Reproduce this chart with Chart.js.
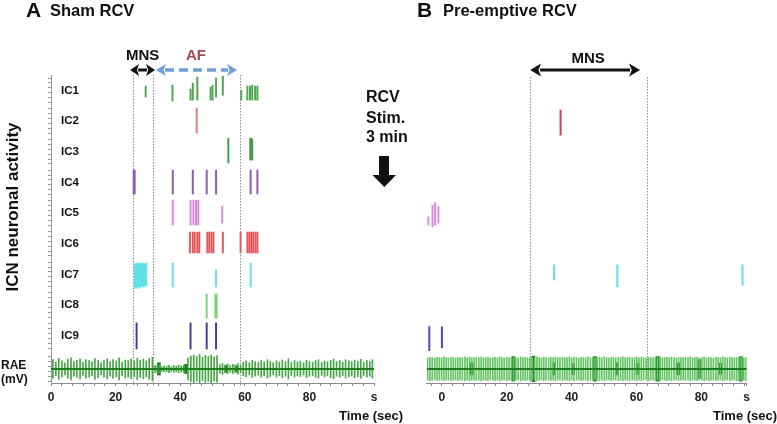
<!DOCTYPE html>
<html><head><meta charset="utf-8">
<script src="https://cdn.jsdelivr.net/npm/chart.js@4.4.1/dist/chart.umd.min.js"></script>
<style>
html,body{margin:0;padding:0;background:#fff;}
#wrap{position:relative;width:777px;height:424px;overflow:hidden;}
canvas{position:absolute;left:0;top:0;}
</style></head><body>
<div id="wrap"><canvas id="cA" width="777" height="424"></canvas><canvas id="cB" width="777" height="424"></canvas></div>
<script>
// ---------- DATA ----------
const rowNames = ['IC1','IC2','IC3','IC4','IC5','IC6','IC7','IC8','IC9'];
const rowLevels = [9,8,7,6,5,4,3,2,1];
const raeLevel = -0.08;

const xTickValuesA = [0,20,40,60,80,100];
const xTickLabelsA = ['0','20','40','60','80','s'];
const xTickValuesB = [0,20,40,60,80,94];
const xTickLabelsB = ['0','20','40','60','80','s'];

// spikes: [time (s), bottom, top] relative to the row level (row units)
const ic1A = [[29.3,-0.22,0.14],[37.6,-0.35,0.17],[43.2,-0.32,0.04],[43.9,-0.32,0.23],[45.3,-0.32,0.43],[49.4,-0.32,0.10],[50.0,-0.32,0.17],[51.1,-0.22,0.40],[53.2,-0.16,0.46],[58.9,-0.32,0.0],[60.8,-0.32,0.14],[61.6,-0.32,0.14],[62.3,-0.32,0.17],[63.2,-0.32,0.14],[63.9,-0.32,0.14]];
const ic2A = [[45.1,-0.39,0.42]];
const ic3A = [[54.9,-0.37,0.44],[61.7,-0.27,0.44],[62.0,-0.27,0.44],[62.3,-0.27,0.40]];
const ic4A = [[25.6,-0.38,0.40],[25.9,-0.38,0.40],[37.7,-0.38,0.40],[43.9,-0.38,0.40],[48.2,-0.38,0.40],[51.1,-0.38,0.40],[61.8,-0.38,0.40],[63.9,-0.38,0.40]];
const ic5A = [[37.7,-0.39,0.42],[43.2,-0.39,0.42],[44.1,-0.39,0.42],[44.9,-0.39,0.42],[45.6,-0.39,0.42],[53.0,-0.33,0.23]];
const ic6A = [[43.0,-0.30,0.38],[43.9,-0.30,0.38],[44.5,-0.30,0.38],[45.3,-0.30,0.38],[45.9,-0.30,0.38],[48.4,-0.30,0.38],[49.0,-0.30,0.38],[49.7,-0.30,0.38],[50.3,-0.30,0.38],[53.2,-0.30,0.38],[58.7,-0.30,0.38],[60.8,-0.30,0.38],[61.4,-0.30,0.38],[62.0,-0.30,0.38],[62.6,-0.30,0.38],[63.3,-0.30,0.38],[63.9,-0.30,0.38]];
const ic7A = [[25.9,-0.45,0.37],[26.3,-0.41,0.30],[26.7,-0.45,0.37],[27.1,-0.38,0.34],[27.5,-0.45,0.37],[27.9,-0.41,0.33],[28.3,-0.38,0.37],[28.7,-0.41,0.37],[29.1,-0.35,0.30],[29.5,-0.38,0.37],[37.7,-0.41,0.37],[51.1,-0.41,0.14],[61.8,-0.41,0.37]];
const ic8A = [[48.2,-0.42,0.36],[50.9,-0.42,0.36],[51.3,-0.42,0.36]];
const ic9A = [[26.5,-0.43,0.42],[43.2,-0.43,0.42],[48.2,-0.43,0.42],[51.1,-0.43,0.42]];

const ic2B = [[36.6,-0.46,0.36]];
const ic5B = [[-4.2,-0.39,-0.12],[-2.9,-0.45,0.26],[-2.1,-0.39,0.33],[-1.1,-0.33,0.21]];
const ic7B = [[34.6,-0.18,0.31],[54.1,-0.41,0.31],[92.7,-0.35,0.31]];
const ic9B = [[-3.9,-0.49,0.30],[0.0,-0.40,0.29]];

// RAE electrogram: beat times (s) and half amplitudes (row units)
const raeTimesA = [0.6,1.5,2.4,3.4,4.3,5.2,6.2,7.1,8.0,9.0,9.9,10.8,11.8,12.7,13.6,14.6,15.5,16.4,17.4,18.3,19.2,20.2,21.1,22.0,23.0,23.9,24.8,25.8,26.7,27.6,28.6,29.5,30.4,31.4,
 32.2,32.9,33.6,34.3,35.0,35.8,36.5,37.2,38.0,38.8,39.5,40.3,41.1,
 42.4,43.3,44.2,45.1,46.0,46.9,47.8,48.7,49.6,50.5,51.4,
 52.3,53.1,53.9,54.7,55.5,56.3,57.1,57.9,58.7,
 59.5,60.4,61.4,62.3,63.2,64.2,65.1,66.0,67.0,67.9,68.8,69.8,70.7,71.6,72.6,73.5,74.4,75.4,76.3,77.2,78.2,79.1,80.0,81.0,81.9,82.8,83.8,84.7,85.6,86.6,87.5,88.4,89.4,90.3,91.2,92.2,93.1,94.0,95.0,95.9,96.8,97.8,98.7,99.5];
const raeAmpA = [0.30,0.22,0.34,0.26,0.20,0.31,0.36,0.24,0.28,0.33,0.21,0.30,0.27,0.23,0.34,0.29,0.20,0.27,0.33,0.24,0.30,0.26,0.36,0.22,0.29,0.27,0.33,0.25,0.35,0.28,0.32,0.26,0.34,0.38,
 0.12,0.10,0.14,0.08,0.10,0.09,0.12,0.08,0.11,0.09,0.13,0.10,0.12,
 0.36,0.42,0.45,0.40,0.47,0.38,0.44,0.41,0.46,0.39,0.43,
 0.14,0.18,0.12,0.16,0.11,0.15,0.13,0.17,0.12,
 0.22,0.26,0.20,0.28,0.24,0.21,0.27,0.23,0.30,0.25,0.20,0.26,0.22,0.29,0.24,0.33,0.21,0.27,0.23,0.25,0.20,0.28,0.24,0.22,0.27,0.30,0.21,0.26,0.23,0.28,0.32,0.24,0.27,0.22,0.30,0.26,0.23,0.29,0.25,0.31,0.22,0.27,0.24,0.30];
const raeBurstTimesA = [33.4,41.8,54.2,57.4];
const raeBurstAmpA = [0.20,0.15,0.12,0.10];

const raeTimesB = [-4.4,-3.7,-3.0,-2.2,-1.5,-0.8,-0.1,0.6,1.3,2.0,2.8,3.5,4.2,4.9,5.6,6.3,7.1,7.8,8.5,9.2,9.9,10.6,11.4,12.1,12.8,13.5,14.2,14.9,15.7,16.4,17.1,17.8,18.5,19.2,20.0,20.7,21.4,22.1,22.8,23.5,24.3,25.0,25.7,26.4,27.1,27.8,28.6,29.3,30.0,30.7,31.4,32.1,32.9,33.6,34.3,35.0,35.7,36.4,37.2,37.9,38.6,39.3,40.0,40.7,41.5,42.2,42.9,43.6,44.3,45.0,45.8,46.5,47.2,47.9,48.6,49.3,50.1,50.8,51.5,52.2,52.9,53.6,54.4,55.1,55.8,56.5,57.2,57.9,58.7,59.4,60.1,60.8,61.5,62.2,63.0,63.7,64.4,65.1,65.8,66.5,67.3,68.0,68.7,69.4,70.1,70.8,71.6,72.3,73.0,73.7,74.4,75.1,75.9,76.6,77.3,78.0,78.7,79.4,80.2,80.9,81.6,82.3,83.0,83.7,84.5,85.2,85.9,86.6,87.3,88.0,88.8,89.5,90.2,90.9,91.6,92.3,93.1,93.8];
const raeAmpB = [0.36,0.38,0.37,0.35,0.38,0.37,0.36,0.39,0.37,0.36,0.38,0.37,0.35,0.38,0.36,0.37,0.39,0.36,0.38,0.37,0.36,0.38,0.37,0.39,0.36,0.37,0.38,0.35,0.37,0.38,0.36,0.39,0.37,0.36,0.38,0.37,0.35,0.38,0.37,0.36,0.39,0.37,0.38,0.36,0.37,0.38,0.36,0.39,0.37,0.35,0.38,0.37,0.36,0.38,0.37,0.39,0.36,0.37,0.38,0.36,0.37,0.39,0.36,0.38,0.37,0.35,0.38,0.37,0.36,0.39,0.37,0.38,0.36,0.37,0.38,0.36,0.39,0.37,0.35,0.38,0.37,0.36,0.38,0.37,0.39,0.36,0.37,0.38,0.36,0.37,0.39,0.36,0.38,0.37,0.35,0.38,0.37,0.36,0.39,0.37,0.38,0.36,0.37,0.38,0.36,0.39,0.37,0.35,0.38,0.37,0.36,0.38,0.37,0.39,0.36,0.37,0.38,0.36,0.37,0.39,0.36,0.38,0.37,0.35,0.38,0.37,0.36,0.39,0.37,0.36,0.38,0.37,0.36,0.38,0.37,0.39,0.36,0.38];
const raeBurstTimesB = [9.2,22.0,28.2,34.6,40.5,47.2,53.9,60.3,66.6,73.0,79.3,85.8,92.2];
const raeBurstAmpB = [0.20,0.40,0.42,0.20,0.18,0.40,0.20,0.18,0.40,0.20,0.30,0.18,0.40];

// event markers (s)
const mnsA = [24.5, 32.2];
const afA = [32.2, 57.6];
const eventLinesA = [25.4, 31.7, 58.6];
const mnsB = [27.2, 61.1];
const eventLinesB = [27.1, 63.3];

// ---------- STYLE ----------
const FONT = "'Liberation Sans', Arial, sans-serif";
const colorsA = ['#4fa64f','#e07a86','#4a9a4a','#8e59b3','#d98ae0','#e2585d','#62e1ea','#76d676','#3d3d9e'];
const colorsB = {IC2:'#c44a58', IC5:'#d98ae0', IC7:'#62e1ea', IC9:'#4f4fb0'};

function spikeData(spikes, level){ return spikes.map(s => ({x:s[0], y:[level+s[1], level+s[2]]})); }
function raeData(times, amps){ return times.map((t,i) => ({x:t, y:[raeLevel-amps[i], raeLevel+amps[i]]})); }
function barDs(data, color, w){ return {type:'bar', data, backgroundColor:color, borderWidth:0, barThickness:w, grouped:false, order:2}; }
function baseDs(x0, x1){ return {type:'line', data:[{x:x0,y:raeLevel},{x:x1,y:raeLevel}], borderColor:'#1d7d1d', borderWidth:2, pointRadius:0, order:0}; }

function yTicks(){
  const out=[]; const offs=[-0.4,-0.24,-0.08,0.08,0.24,0.4];
  rowLevels.concat([raeLevel]).forEach(l => offs.forEach(o => out.push({value:l+o})));
  return out;
}
function xTicks(min, max){
  const out=[]; const step=10/3;
  for(let v=Math.ceil(min/step)*step; v<max-0.3; v+=step) out.push(v);
  out.push(max);
  return out.map(v=>({value:v}));
}
function labelFor(values, labels){
  return (v) => { const i = values.findIndex(m => Math.abs(m - v) < 1e-6); return i>=0 ? labels[i] : ''; };
}

function dblArrow(ctx, x1, x2, y, color, lw, head, halfW, dash){
  ctx.save();
  ctx.strokeStyle=color; ctx.fillStyle=color; ctx.lineWidth=lw;
  if(dash) ctx.setLineDash(dash);
  ctx.beginPath(); ctx.moveTo(x1+head-1,y); ctx.lineTo(x2-head+1,y); ctx.stroke();
  ctx.setLineDash([]);
  ctx.beginPath(); ctx.moveTo(x1,y); ctx.lineTo(x1+head,y-halfW); ctx.lineTo(x1+head*0.75,y); ctx.lineTo(x1+head,y+halfW); ctx.closePath(); ctx.fill();
  ctx.beginPath(); ctx.moveTo(x2,y); ctx.lineTo(x2-head,y-halfW); ctx.lineTo(x2-head*0.75,y); ctx.lineTo(x2-head,y+halfW); ctx.closePath(); ctx.fill();
  ctx.restore();
}
function dotted(chart, times, y0, y1){
  const {ctx, scales:{x}} = chart;
  ctx.save(); ctx.strokeStyle='#8c8c8c'; ctx.lineWidth=1; ctx.setLineDash([1.5,1.5]);
  times.forEach(t => { const px=Math.round(x.getPixelForValue(t))+0.5; ctx.beginPath(); ctx.moveTo(px,y0); ctx.lineTo(px,y1); ctx.stroke(); });
  ctx.restore();
}
function txt(ctx, s, x, y, font, color, align, base){
  ctx.font=font; ctx.fillStyle=color||'#111'; ctx.textAlign=align||'left'; ctx.textBaseline=base||'alphabetic'; ctx.fillText(s,x,y);
}

const annotA = {
  id:'annotA',
  beforeDatasetsDraw(chart){ dotted(chart, eventLinesA, 75, 385); },
  afterDraw(chart){
    const {ctx, scales:{x,y}} = chart;
    ctx.save();
    txt(ctx,'A',26,17,'bold 21px '+FONT);
    txt(ctx,'Sham RCV',50,16,'bold 16.5px '+FONT);
    rowNames.forEach((n,i)=> txt(ctx,n,61,y.getPixelForValue(rowLevels[i]),'bold 11.5px '+FONT,'#111','left','middle'));
    txt(ctx,'RAE',1,366,'bold 12px '+FONT,'#111','left','middle');
    txt(ctx,'(mV)',1,380,'bold 12px '+FONT,'#111','left','middle');
    ctx.save(); ctx.translate(13,207); ctx.rotate(-Math.PI/2);
    txt(ctx,'ICN neuronal activity',0,0,'bold 17px '+FONT,'#111','center','middle'); ctx.restore();
    txt(ctx,'Time (sec)',339,420,'bold 13px '+FONT);
    const m0=x.getPixelForValue(mnsA[0]), m1=x.getPixelForValue(mnsA[1]);
    const a0=x.getPixelForValue(afA[0]), a1=x.getPixelForValue(afA[1]);
    dblArrow(ctx,a0+1,a1,70,'#6f9fd6',3.5,10,6,[9,5]);
    dblArrow(ctx,m0,m1,70,'#111',3,9,6,null);
    txt(ctx,'MNS',(m0+m1)/2,60,'bold 15px '+FONT,'#111','center');
    txt(ctx,'AF',(a0+a1)/2,60,'bold 15px '+FONT,'#a8474e','center');
    // RCV stimulation note and arrow
    txt(ctx,'RCV',366,102,'bold 16px '+FONT);
    txt(ctx,'Stim.',366,123,'bold 16px '+FONT);
    txt(ctx,'3 min',366,142,'bold 16px '+FONT);
    ctx.fillStyle='#111';
    ctx.fillRect(379,156,10,20);
    ctx.beginPath(); ctx.moveTo(372.5,175); ctx.lineTo(396,175); ctx.lineTo(384.3,187); ctx.closePath(); ctx.fill();
    ctx.restore();
  }
};
const annotB = {
  id:'annotB',
  beforeDatasetsDraw(chart){ dotted(chart, eventLinesB, 77, 385); },
  afterDraw(chart){
    const {ctx, scales:{x}} = chart;
    ctx.save();
    txt(ctx,'B',417,17,'bold 21px '+FONT);
    txt(ctx,'Pre-emptive RCV',443,16,'bold 16.5px '+FONT);
    txt(ctx,'Time (sec)',713,420,'bold 13px '+FONT);
    const m0=x.getPixelForValue(mnsB[0]), m1=x.getPixelForValue(mnsB[1]);
    dblArrow(ctx,m0,m1,70,'#111',3,11,6.5,null);
    txt(ctx,'MNS',(m0+m1)/2+3,63,'bold 15px '+FONT,'#111','center');
    ctx.restore();
  }
};

function makeOptions(xmin, xmax, tickVals, tickLabels, padL, padR, showY){
  return {
    responsive:false, animation:false, events:[],
    layout:{padding:{left:padL, right:padR, top:75, bottom:19}},
    plugins:{legend:{display:false}, tooltip:{enabled:false}},
    scales:{
      x:{type:'linear', min:xmin, max:xmax, offset:false,
         grid:{display:true, offset:false, drawOnChartArea:false, drawTicks:true, tickLength:3, color:'#888'},
         border:{display:true, color:'#8a8a8a'},
         ticks:{autoSkip:false, maxRotation:0, minRotation:0, padding:4, color:'#222', font:{family:FONT, size:12, weight:'bold'}, callback:labelFor(tickVals, tickLabels)},
         afterBuildTicks:(s)=>{ s.ticks = xTicks(xmin, xmax); },
         afterFit:(s)=>{ s.height = 22; }},
      y:{type:'linear', min:-0.54, max:9.5, position:'left',
         grid:{display:showY, drawOnChartArea:false, drawTicks:true, tickLength:3, color:'#999'},
         border:{display:showY, color:'#999'},
         ticks:{display:false},
         afterBuildTicks:(s)=>{ s.ticks = yTicks(); },
         afterFit:(s)=>{ s.width = 8; }},
      yR:{type:'linear', position:'right', display:true,
         grid:{display:false}, border:{display:false}, ticks:{display:false},
         afterFit:(s)=>{ s.width = 8; }}
    }
  };
}

// ---------- PANEL A ----------
const rowsA = [ic1A, ic2A, ic3A, ic4A, ic5A, ic6A, ic7A, ic8A, ic9A];
const dsA = rowsA.map((sp,i)=> barDs(spikeData(sp, rowLevels[i]), colorsA[i], 1.3));
dsA.push(barDs(raeData(raeTimesA, raeAmpA), '#45a845', 1));
dsA.push(barDs(raeData(raeBurstTimesA, raeBurstAmpA), '#1f7f1f', 3));
dsA.push(baseDs(0, 100));
new Chart(document.getElementById('cA'), {
  type:'bar', data:{datasets:dsA},
  options: makeOptions(0, 100, xTickValuesA, xTickLabelsA, 43, 777-374-8, true),
  plugins:[annotA]
});

// ---------- PANEL B ----------
const dsB = [
  barDs(spikeData(ic2B, rowLevels[1]), colorsB.IC2, 1.4),
  barDs(spikeData(ic5B, rowLevels[4]), colorsB.IC5, 1.3),
  barDs(spikeData(ic7B, rowLevels[6]), colorsB.IC7, 1.4),
  barDs(spikeData(ic9B, rowLevels[8]), colorsB.IC9, 1.4),
  barDs(raeData(raeTimesB, raeAmpB), '#66c466', 1),
  barDs(raeData(raeBurstTimesB, raeBurstAmpB), '#1f7f1f', 3),
  baseDs(-4.7, 94)
];
new Chart(document.getElementById('cB'), {
  type:'bar', data:{datasets:dsB},
  options: makeOptions(-4.7, 94, xTickValuesB, xTickLabelsB, 426.7-8, 777-746.7-8, false),
  plugins:[annotB]
});
</script></body></html>
